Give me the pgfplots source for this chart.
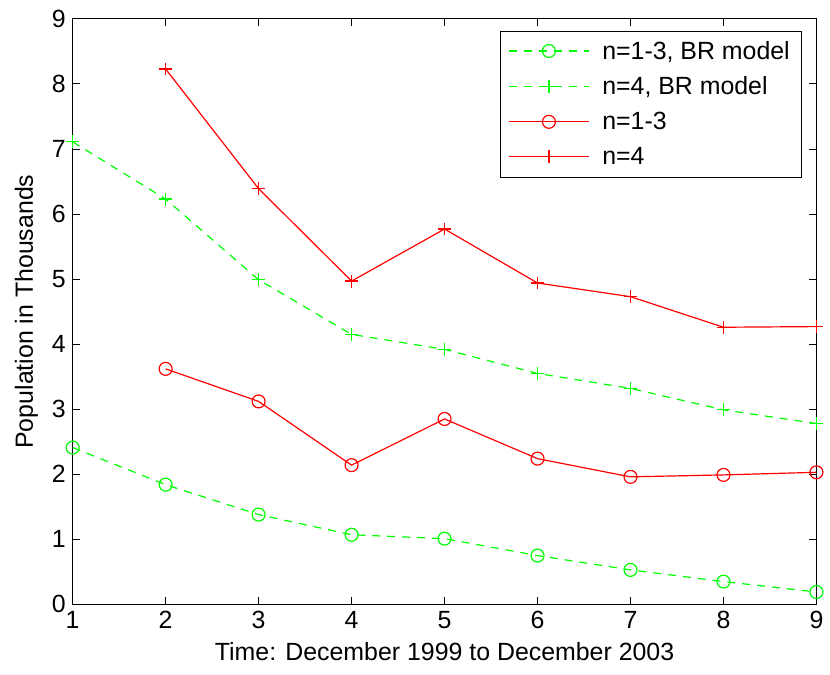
\documentclass[border=0pt]{standalone}
\usepackage{fontspec}
\setmainfont{Liberation Sans}
\usepackage{pgfplots}
\pgfplotsset{compat=1.18}

\begin{document}
\begin{tikzpicture}
\begin{axis}[
    scale only axis,
    width=373.5pt,
    height=294pt,
    xmin=1, xmax=9,
    ymin=0, ymax=9,
    xtick={1,...,9},
    ytick={0,...,9},
    tick pos=both,
    tick align=inside,
    major tick length=3.5pt,
    tick style={black, line width=0.5pt},
    axis line style={line width=0.6pt},
    font=\fontsize{12.5}{15}\selectfont,
    /pgf/number format/assume math mode=true,
    xlabel={Time: December 1999 to December 2003},
    ylabel={Population in Thousands},
    clip=false,
    legend cell align=left,
    legend style={at={(axis description cs:1,1)}, anchor=north east,
        xshift=-7.15pt, yshift=-5.85pt, draw=black, line width=0.5pt,
        font=\fontsize{12.5}{15}\selectfont, row sep=3.3pt,
        inner xsep=4pt, inner ysep=3pt,
        /tikz/every odd column/.append style={column sep=4.5pt}},
    legend image code/.code={
        \draw[#1, mark=none] (0pt,0.25pt) -- (40pt,0.25pt);
        \draw[#1, solid] plot coordinates {(20pt,0.25pt)};},
]
\addplot[color=green, line width=0.6pt, dash pattern=on 4pt off 3.5pt,
    mark=o, mark size=3.25pt, mark options={solid}] coordinates {
  (1,2.41) (2,1.84) (3,1.38) (4,1.07) (5,1.01) (6,0.75) (7,0.53) (8,0.35) (9,0.19)
};
\addplot[color=green, line width=0.6pt, dash pattern=on 4pt off 3.5pt,
    mark=+, mark size=3.25pt, mark options={solid}] coordinates {
  (1,7.11) (2,6.23) (3,4.99) (4,4.15) (5,3.92) (6,3.55) (7,3.32) (8,2.99) (9,2.78)
};
\addplot[color=red, line width=0.6pt, mark=o, mark size=3.25pt] coordinates {
  (2,3.62) (3,3.12) (4,2.14) (5,2.85) (6,2.24) (7,1.96) (8,1.99) (9,2.03)
};
\addplot[color=red, line width=0.6pt, mark=+, mark size=3.25pt] coordinates {
  (2,8.23) (3,6.39) (4,4.97) (5,5.77) (6,4.94) (7,4.73) (8,4.26) (9,4.27)
};
\legend{{n=1-3, BR model}, {n=4, BR model}, {n=1-3}, {n=4}}
\path (rel axis cs:-0.0977,-0.119) rectangle (rel axis cs:1.0134,1.0323);
\end{axis}
\end{tikzpicture}
\end{document}
